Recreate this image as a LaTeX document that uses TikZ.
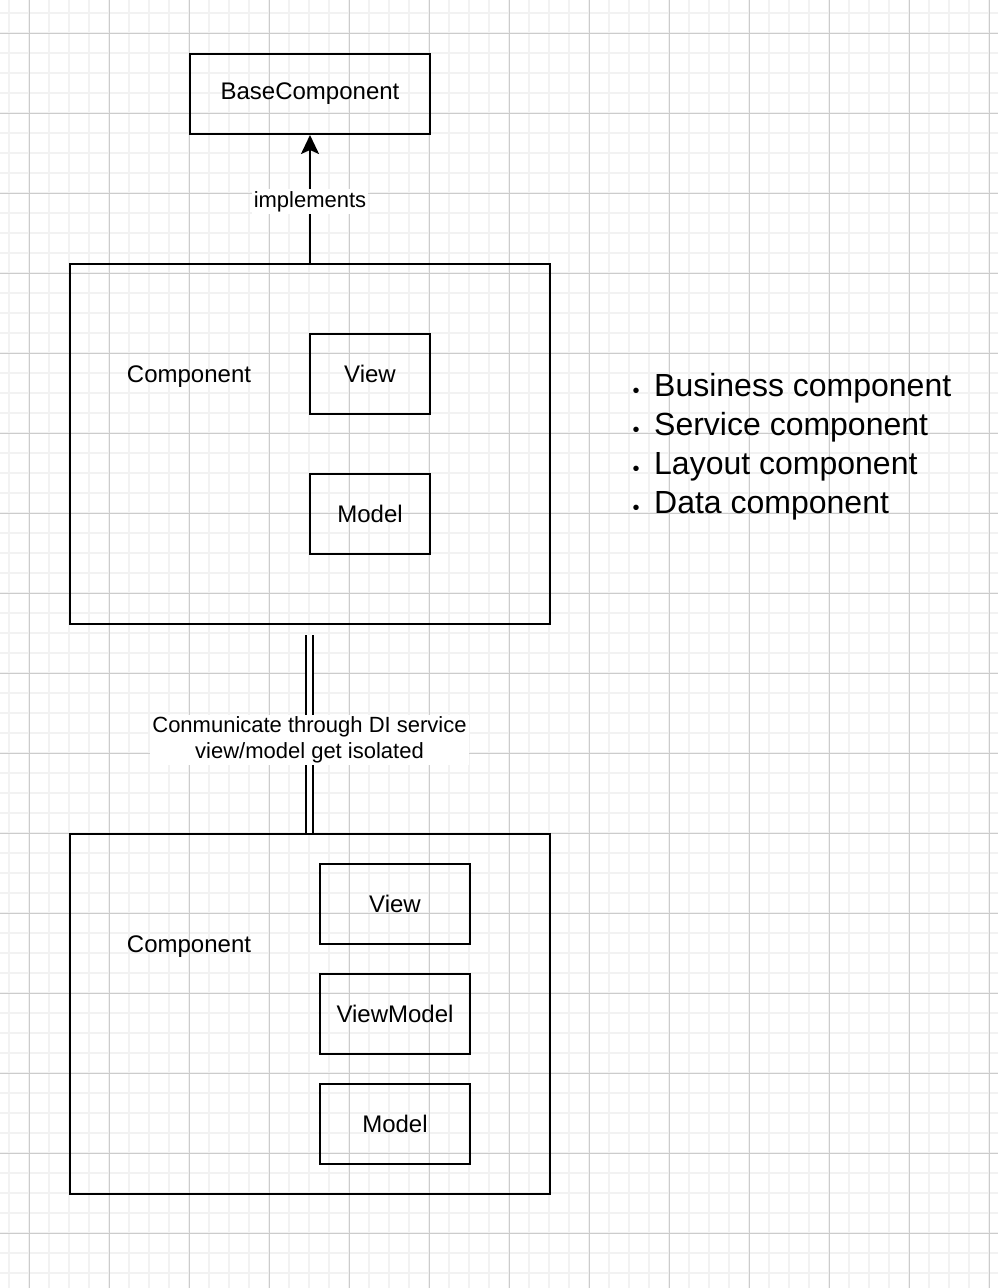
\documentclass[tikz,border=0pt]{standalone}
\usepackage{fontspec}
\setmainfont{Liberation Sans}
\usepackage{xcolor}
\usepackage{tikz}
\usetikzlibrary{arrows.meta}

\tikzset{
  box/.style={draw, line width=2pt, font=\fontsize{24}{28}\selectfont},
  lbl/.style={font=\fontsize{24}{28}\selectfont},
  edgelbl/.style={fill=white, inner sep=2pt, align=center, font=\fontsize{22}{26}\selectfont},
  itemtxt/.style={anchor=base west, inner sep=0pt, font=\fontsize{32}{38}\selectfont}
}

\begin{document}
\begin{tikzpicture}[x=1pt, y=-1pt]
\useasboundingbox (0,0) rectangle (998,1288);
\fill[white] (0,0) rectangle (998,1288);
% grid
\foreach \a in {9,29,...,989} {
\draw[color=black!5!white, line width=1.5pt] (\a,0)--(\a,1288);
}
\foreach \a in {13,33,...,1273} {
\draw[color=black!5!white, line width=1.5pt] (0,\a)--(998,\a);
}
\foreach \a in {29,109,...,989} {
\draw[color=black!20!white] (\a,0)--(\a,1288);
}
\foreach \a in {33,113,...,1273} {
\draw[color=black!20!white] (0,\a)--(998,\a);
}

% top
\node[box, minimum width=240pt, minimum height=80pt] (base) at (310,94) {BaseComponent};

\node[box, minimum width=480pt, minimum height=360pt] (comp1) at (310,444) {};
\node[lbl] (comp1lbl) at (189,377) {Component};
\node[box, minimum width=120pt, minimum height=80pt] (view1) at (370,374) {View};
\node[box, minimum width=120pt, minimum height=80pt] (model1) at (370,514) {Model};

\draw[line width=2pt, -{Stealth[length=19pt, width=18pt, inset=4pt]}] (comp1.north) -- (base.south)
  node[edgelbl, pos=0.48] (impl) {implements};

% bottom
\node[box, minimum width=480pt, minimum height=360pt] (comp2) at (310,1014) {};
\node[lbl] (comp2lbl) at (189,947) {Component};
\node[box, minimum width=150pt, minimum height=80pt] (view2) at (395,904) {View};
\node[box, minimum width=150pt, minimum height=80pt] (vm2) at (395,1014) {ViewModel};
\node[box, minimum width=150pt, minimum height=80pt] (model2) at (395,1124) {Model};

\coordinate (linktop) at ([yshift=-10pt]comp1.south);
\draw[line width=2pt, double, double distance=4.5pt] ([xshift=-0.5pt]linktop) -- ([xshift=-0.5pt]comp2.north)
  node[edgelbl, pos=0.53] (comm) {Conmunicate through DI service\\view/model get isolated};

% list
\foreach \txt [count=\i] in {Business component, Service component, Layout component, Data component} {
\node[itemtxt] (item\i) at (654,357+39*\i) {\txt};
\node[anchor=base, inner sep=0pt, font=\fontsize{20}{20}\selectfont] (dot\i) at (636,358+39*\i) {•};
}

\end{tikzpicture}
\end{document}
